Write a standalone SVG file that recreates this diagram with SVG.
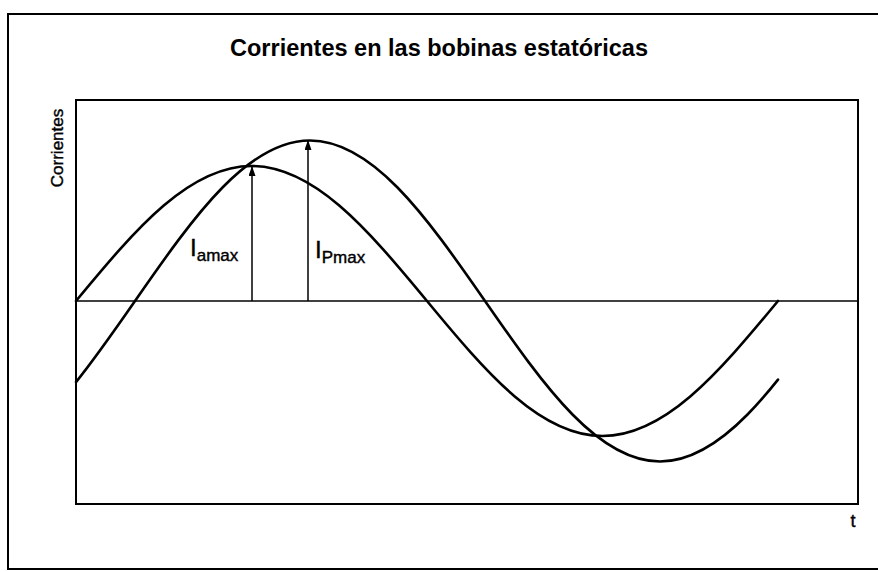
<svg xmlns="http://www.w3.org/2000/svg" width="878" height="572" viewBox="0 0 878 572">
<style>
  .txt { font-family: "Liberation Sans", Arial, sans-serif; fill: #000; }
  .title { font-size: 23.5px; font-weight: bold; }
  .lbl { stroke: #000; stroke-width: 0.4; }
  .frame { fill: none; stroke: #000; stroke-width: 2; }
  .curve { fill: none; stroke: #000; stroke-width: 2.6; stroke-linejoin: round; stroke-linecap: round; }
  .axis { fill: none; stroke: #000; stroke-width: 1.5; }
  .arrow { fill: none; stroke: #000; stroke-width: 1.5; marker-end: url(#ah); }
</style>
<defs>
  <marker id="ah" viewBox="0 0 10 7" refX="9" refY="3.5" markerWidth="10" markerHeight="7" markerUnits="userSpaceOnUse" orient="auto">
    <path d="M0,0 L10,3.5 L0,7 Z" fill="#000"/>
  </marker>
</defs>
<rect width="878" height="572" fill="#fff"/>
<g id="outer-frame">
  <rect class="frame" x="8" y="14" width="880" height="555"/>
</g>
<g id="title">
  <text class="txt title" x="439" y="56" text-anchor="middle">Corrientes en las bobinas estatóricas</text>
</g>
<g id="plot-area">
  <rect class="frame" x="76" y="100" width="782" height="404"/>
  <line class="axis" x1="76" y1="301" x2="858" y2="301"/>
</g>
<g id="y-label">
  <text class="txt lbl" font-size="17" transform="translate(63,148) rotate(-90)" text-anchor="middle">Corrientes</text>
</g>
<g id="t-label">
  <text class="txt lbl" font-size="18" x="853" y="527" text-anchor="middle">t</text>
</g>
<g id="curve-a">
  <path class="curve" d="M76,301 C105.25,265.66 134.5,230.53 163.75,205.54 C193,180.55 222.25,166 251.5,166 C280.75,166 310,180.55 339.25,205.54 C368.5,230.53 397.75,265.66 427,301 C456.25,336.34 485.5,371.47 514.75,396.46 C544,421.45 573.25,436 602.5,436 C631.75,436 661,421.45 690.25,396.46 C719.5,371.47 748.75,336.34 778,301"/>
</g>
<g id="curve-p">
  <path class="curve" d="M76,382.07 C95.67,357.62 115.33,329.34 135,301 C164.17,258.98 193.33,217.22 222.5,187.51 C251.67,157.8 280.83,140.5 310,140.5 C339.17,140.5 368.33,157.8 397.5,187.51 C426.67,217.22 455.83,258.98 485,301 C514.17,343.02 543.33,384.78 572.5,414.49 C601.67,444.2 630.83,461.5 660,461.5 C689.17,461.5 718.33,444.2 747.5,414.49 C757.67,404.13 767.83,392.35 778,379.57"/>
</g>
<g id="connectors">
  <line class="arrow" x1="252" y1="301" x2="252" y2="167"/>
  <line class="arrow" x1="308" y1="301" x2="308" y2="141"/>
</g>
<g id="label-iamax">
  <text class="txt lbl" x="190" y="256"><tspan font-size="24">I</tspan><tspan font-size="17" dy="5">amax</tspan></text>
</g>
<g id="label-ipmax">
  <text class="txt lbl" x="315" y="258"><tspan font-size="24">I</tspan><tspan font-size="17" dy="5">Pmax</tspan></text>
</g>
</svg>
